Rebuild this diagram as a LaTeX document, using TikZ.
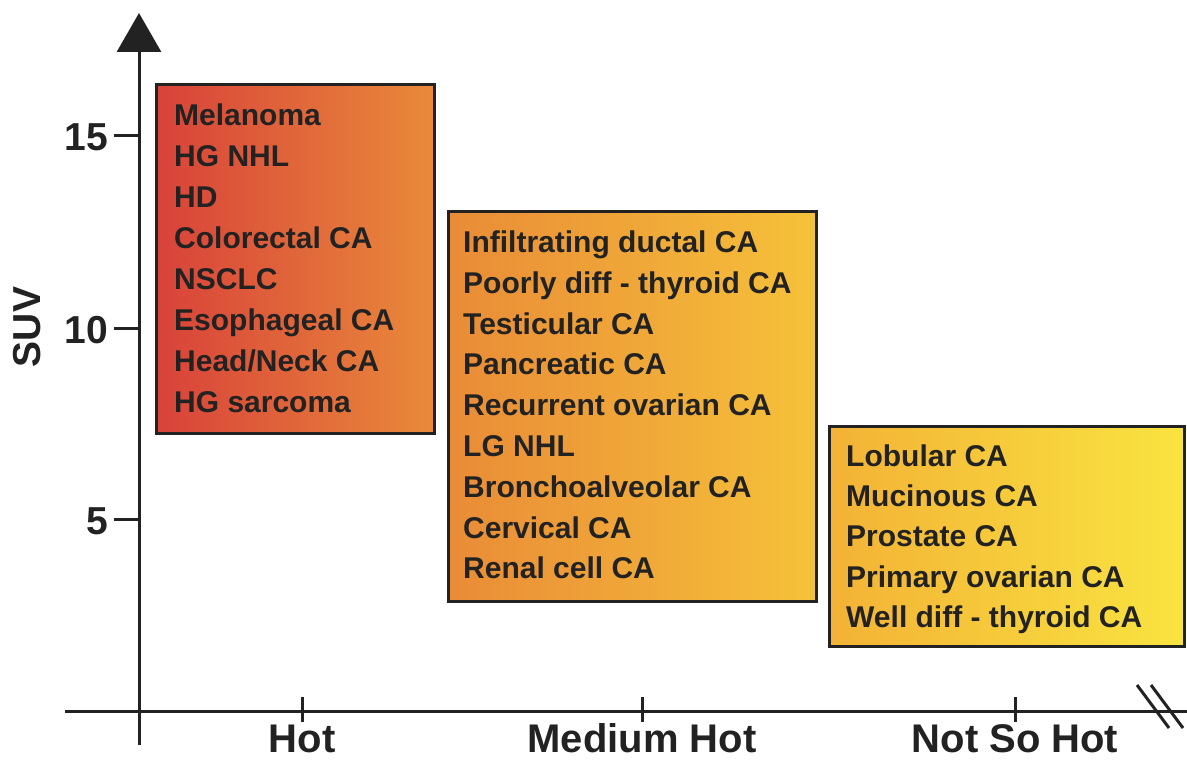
\documentclass[tikz,border=0pt]{standalone}
\usepackage{fontspec}
\setmainfont{Liberation Sans}
\usetikzlibrary{arrows.meta}
\definecolor{ink}{HTML}{222222}
\definecolor{redA}{HTML}{D8423A}
\definecolor{orA}{HTML}{E98A3A}
\definecolor{orB}{HTML}{E98B37}
\definecolor{yeB}{HTML}{F6C23A}
\definecolor{yeC}{HTML}{F3B236}
\definecolor{yeD}{HTML}{F9E440}
\tikzset{
  axis/.style={draw=ink, line width=3pt},
  catbox/.style={rectangle, draw=ink, line width=3pt, anchor=north west, inner sep=0pt},
  item/.style={anchor=base west, inner sep=0pt, text=ink, font=\fontsize{30}{35}\selectfont\bfseries},
  axlabel/.style={inner sep=0pt, text=ink, font=\fontsize{40}{46}\selectfont\bfseries},
  ticklabel/.style={inner sep=0pt, text=ink, font=\fontsize{39}{44}\selectfont\bfseries},
}
\begin{document}
\begin{tikzpicture}[x=1pt,y=-1pt]
\useasboundingbox (0,0) rectangle (1187,760);
% boxes
\node[catbox, left color=redA, right color=orA, minimum width=278pt, minimum height=349pt] (box1) at (155,83) {};
\node[catbox, left color=orB, right color=yeB, minimum width=368pt, minimum height=390pt] (box2) at (447,210) {};
\node[catbox, left color=yeC, right color=yeD, minimum width=355pt, minimum height=220pt] (box3) at (828,425) {};
% box texts
\foreach \t [count=\i from 0] in {Melanoma,HG NHL,HD,Colorectal CA,NSCLC,Esophageal CA,Head/Neck CA,HG sarcoma}
  \node[item] (a\i) at (174,{125+41*\i}) {\t};
\foreach \t [count=\i from 0] in {Infiltrating ductal CA,Poorly diff - thyroid CA,Testicular CA,Pancreatic CA,Recurrent ovarian CA,LG NHL,Bronchoalveolar CA,Cervical CA,Renal cell CA}
  \node[item] (b\i) at (463,{252.5+40.8*\i}) {\t};
\foreach \t [count=\i from 0] in {Lobular CA,Mucinous CA,Prostate CA,Primary ovarian CA,Well diff - thyroid CA}
  \node[item] (c\i) at (846,{466+40.4*\i}) {\t};
% axes
\coordinate (ybot) at (139,745);
\coordinate (ytop) at (139,13);
\coordinate (xl) at (65,711);
\coordinate (xr) at (1187,711);
\draw[axis, -{Triangle[length=39pt,width=44pt]}] (ybot) -- (ytop);
\draw[axis] (xl) -- (xr);
% y ticks
\foreach \v/\y in {15/135,10/328,5/519}{
  \coordinate (yt\v) at (139,\y);
  \coordinate (ys\v) at (114,\y);
  \draw[axis] (ys\v) -- (yt\v);
  \node[ticklabel, anchor=east] (yl\v) at (108,{\y+2}) {\v};
}
% x ticks
\foreach \n/\x/\t in {h/302/Hot,m/642/Medium Hot,n/1015/Not So Hot}{
  \coordinate (xa\n) at (\x,697);
  \coordinate (xb\n) at (\x,722);
  \draw[axis] (xa\n) -- (xb\n);
  \node[axlabel, anchor=base] (xl\n) at (\x,752) {\t};
}
% SUV label
\node[ticklabel, rotate=90, anchor=center] (suv) at (27,327) {SUV};
% axis break
\coordinate (k1a) at (1137,685);
\coordinate (k1b) at (1169,728);
\coordinate (k2a) at (1151,685);
\coordinate (k2b) at (1183,728);
\draw[axis] (k1a) -- (k1b);
\draw[axis] (k2a) -- (k2b);
\end{tikzpicture}
\end{document}
